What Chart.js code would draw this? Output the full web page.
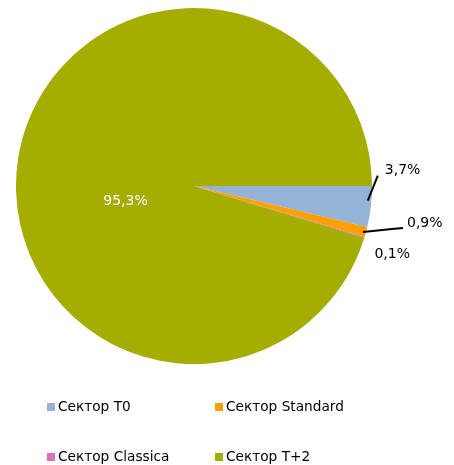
<!DOCTYPE html>
<html>
<head>
<meta charset="utf-8">
<script src="https://cdn.jsdelivr.net/npm/chart.js@4/dist/chart.umd.min.js"></script>
<style>
  body { margin: 0; background: #fff; }
  #wrap { position: relative; width: 454px; height: 465px; }
  #legend { position: absolute; left: 47px; top: 398px; width: 400px; font: 13.7px "DejaVu Sans", sans-serif; color: #000; }
  .item { position: absolute; white-space: nowrap; }
  .item span.box { display: inline-block; width: 8px; height: 8px; margin-right: 3px; vertical-align: 0px; }
</style>
</head>
<body>
<div id="wrap">
  <canvas id="pieChart" width="454" height="465"></canvas>
  <div id="legend"></div>
</div>
<script>
const sectors = ["Сектор T0", "Сектор Standard", "Сектор Classica", "Сектор T+2"];
const shares = [3.7, 0.9, 0.1, 95.3];
const percentLabels = ["3,7%", "0,9%", "0,1%", "95,3%"];
const sectorColors = ["#95B3D7", "#FF9F00", "#DD70B4", "#A4AD00"];

// where each label goes, relative to the outer point of its slice
const labelPlacement = [
    { dx: 14, dy: -36, line: true, lineTo: [7, -31] },
    { dx: 41, dy: -9, line: true, lineTo: [37, -4] },
    { dx: 10, dy: 17, line: false },
    { inside: true, dx: 0, dy: 0 }
];

const pieLabels = {
    id: "pieLabels",
    afterDatasetsDraw(chart) {
        const c = chart.ctx;
        const arcs = chart.getDatasetMeta(0).data;
        c.save();
        c.font = "14px 'DejaVu Sans', sans-serif";
        c.textBaseline = "middle";
        arcs.forEach((arc, i) => {
            const p = labelPlacement[i];
            const mid = (arc.startAngle + arc.endAngle) / 2;
            if (p.inside) {
                c.fillStyle = "#fff";
                c.textAlign = "left";
                c.fillText(percentLabels[i], arc.x - arc.outerRadius * 0.51, arc.y + 15);
                return;
            }
            const ox = arc.x + Math.cos(mid) * arc.outerRadius;
            const oy = arc.y + Math.sin(mid) * arc.outerRadius;
            if (p.line) {
                c.strokeStyle = "#000";
                c.lineWidth = 2;
                c.beginPath();
                c.moveTo(ox - 3, oy - 6 * (i === 0 ? 1 : 0));
                if (i === 1) {
                    c.lineTo(ox + 26, oy - 3);
                }
                c.lineTo(ox + p.lineTo[0], oy + p.lineTo[1]);
                c.stroke();
            }
            c.fillStyle = "#000";
            c.textAlign = "left";
            c.fillText(percentLabels[i], ox + p.dx, oy + p.dy);
        });
        c.restore();
    }
};

new Chart(document.getElementById("pieChart"), {
    type: "pie",
    data: {
        labels: sectors,
        datasets: [{
            data: shares,
            backgroundColor: sectorColors,
            borderWidth: 0
        }]
    },
    options: {
        responsive: false,
        animation: false,
        rotation: 90,
        layout: { padding: { left: 16, right: 82, top: 8, bottom: 101 } },
        plugins: {
            legend: { display: false },
            tooltip: { enabled: false }
        }
    },
    plugins: [pieLabels]
});

const legend = document.getElementById("legend");
sectors.forEach((name, i) => {
    const item = document.createElement("div");
    item.className = "item";
    item.style.left = (i % 2) * 168 + "px";
    item.style.top = Math.floor(i / 2) * 50 + "px";
    item.innerHTML = '<span class="box" style="background:' + sectorColors[i] + '"></span>' + name;
    legend.appendChild(item);
});
</script>
</body>
</html>
